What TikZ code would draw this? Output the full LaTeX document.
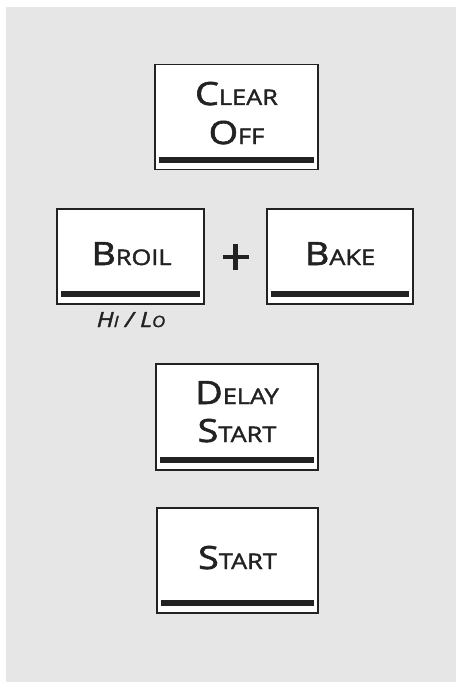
\documentclass[tikz,border=0pt]{standalone}
\usepackage{fontspec}
\setmainfont{Open Sans}[FakeBold=1.8, FakeStretch=1.18]
\definecolor{panel}{HTML}{E6E6E6}
\definecolor{ink}{HTML}{222222}
\newcommand\keycap[2]{{\fontsize{32}{32}\selectfont #1}{\fontsize{21.5}{21.5}\selectfont #2}}
\newcommand\subcap[2]{{\fontsize{21}{21}\selectfont #1}{\fontsize{15.5}{15.5}\selectfont #2}}
\tikzset{
  keybox/.style={draw=ink, line width=1.5pt, fill=white, inner sep=0pt, rectangle},
  keybar/.style={draw=ink, line width=6pt},
  keytext/.style={text=ink, inner sep=0pt, anchor=base},
  plusline/.style={draw=ink, line width=4.5pt}
}
\begin{document}
\begin{tikzpicture}[x=1pt,y=-1pt]
\useasboundingbox (0,0) rectangle (456,682);
\fill[white] (0,0) rectangle (456,682);
\fill[panel] (6,7) rectangle (456,682);
% boxes
\node[keybox, minimum width=163pt, minimum height=105pt] (clear) at (236.5,117) {};
\node[keybox, minimum width=147pt, minimum height=95pt] (broil) at (130.5,256.5) {};
\node[keybox, minimum width=146pt, minimum height=95pt] (bake) at (340,256.5) {};
\node[keybox, minimum width=162pt, minimum height=106pt] (delay) at (237,417) {};
\node[keybox, minimum width=161pt, minimum height=105pt] (start) at (237.5,560.5) {};
% bars
\foreach \b in {clear,broil,bake,delay,start}{
  \draw[keybar] ([xshift=5pt,yshift=10.5pt]\b.south west) -- ([xshift=-5pt,yshift=10.5pt]\b.south east);
}
% texts
\node[keytext] (clearA) at (236.5,105) {\keycap{C}{LEAR}};
\node[keytext] (clearB) at (236.5,144) {\keycap{O}{FF}};
\node[keytext] (broilT) at (131.5,265) {\keycap{B}{ROIL}};
\node[keytext] (bakeT) at (340,265) {\keycap{B}{AKE}};
\node[keytext] (delayA) at (237,404) {\keycap{D}{ELAY}};
\node[keytext] (delayB) at (237,442) {\keycap{S}{TART}};
\node[keytext] (startT) at (237.5,569) {\keycap{S}{TART}};
\node[keytext] (hilo) at (131,327) {\fontsize{21}{21}\selectfont\itshape\subcap{H}{I} / \subcap{L}{O}};
% plus sign
\coordinate (plusC) at (235.5,257);
\draw[plusline] ([xshift=-13pt]plusC) -- ([xshift=13pt]plusC);
\draw[plusline] ([yshift=13pt]plusC) -- ([yshift=-13pt]plusC);
\end{tikzpicture}
\end{document}
